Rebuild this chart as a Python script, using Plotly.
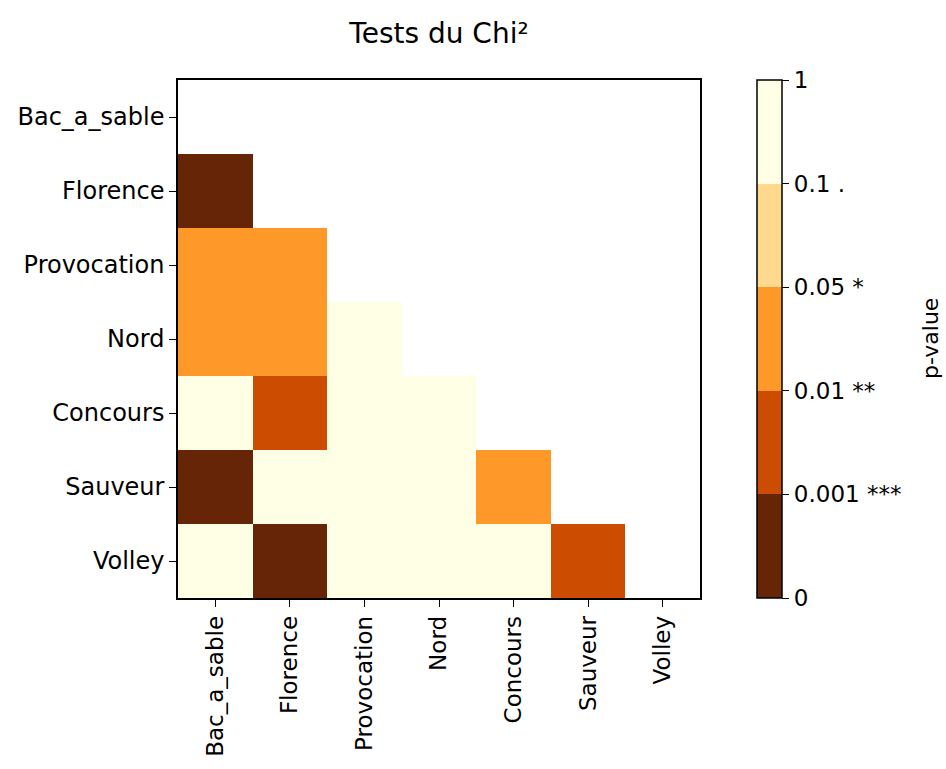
import numpy as np
import plotly.graph_objects as go

categories = ["Bac_a_sable", "Florence", "Provocation", "Nord", "Concours", "Sauveur", "Volley"]

# p-values of the lower triangle (row, col), estimated from colour bins
pvalues = [
    [None, None, None, None, None, None, None],
    [0.0001, None, None, None, None, None, None],
    [0.03, 0.03, None, None, None, None, None],
    [0.03, 0.03, 0.5, None, None, None, None],
    [0.5, 0.005, 0.5, 0.5, None, None, None],
    [0.0001, 0.5, 0.5, 0.5, 0.03, None, None],
    [0.5, 0.0001, 0.5, 0.5, 0.5, 0.005, None],
]

bounds = [0, 0.001, 0.01, 0.05, 0.1, 1]
bound_labels = ["0", "0.001 ***", "0.01 **", "0.05 *", "0.1 .", "1"]
bin_colors = ["#662506", "#cc4c02", "#fe9929", "#fed98e", "#ffffe5"]

# map each p-value to its bin index (evenly spaced colourbar)
z = []
for row in pvalues:
    zr = []
    for p in row:
        if p is None:
            zr.append(None)
        else:
            k = int(np.searchsorted(bounds, p, side="right") - 1)
            k = min(max(k, 0), len(bin_colors) - 1)
            zr.append(k + 0.5)
    z.append(zr)

n = len(bin_colors)
colorscale = []
for i, c in enumerate(bin_colors):
    colorscale.append([i / n, c])
    colorscale.append([(i + 1) / n, c])

FONT = "DejaVu Sans"

fig = go.Figure(go.Heatmap(
    z=z, x=categories, y=categories,
    zmin=0, zmax=n,
    colorscale=colorscale,
    hoverongaps=False,
    colorbar=dict(
        tickvals=list(range(n + 1)),
        ticktext=bound_labels,
        ticks="outside", ticklen=7, tickcolor="black",
        thickness=25, len=1.0, lenmode="fraction", y=0.5, yanchor="middle",
        x=1.109, xanchor="left", xpad=0, ypad=0,
        outlinecolor="black", outlinewidth=1.5,
        tickfont=dict(size=23, color="black", family=FONT),
    ),
))

axis_common = dict(
    showgrid=False, zeroline=False, showline=True, linecolor="black",
    linewidth=1.5, mirror=True, ticks="outside", ticklen=7, tickcolor="black",
)
fig.update_xaxes(tickangle=-90, tickfont=dict(size=23, color="black", family=FONT), **axis_common)
fig.update_yaxes(autorange="reversed", tickfont=dict(size=24, color="black", family=FONT), **axis_common)

fig.add_annotation(
    text="p-value", xref="paper", yref="paper",
    x=(930 - 178) / 522, y=0.5, xanchor="center", yanchor="middle",
    textangle=-90, showarrow=False,
    font=dict(size=22, color="black", family=FONT),
)

fig.update_layout(
    width=946, height=769,
    margin=dict(l=178, r=246, t=80, b=168),
    paper_bgcolor="white", plot_bgcolor="white",
    title=dict(text="Tests du Chi²", x=0.5, xref="paper", xanchor="center",
               y=1 - 33 / 769, yanchor="middle",
               font=dict(size=28, color="black", family=FONT)),
)

fig.write_html("out.html")
